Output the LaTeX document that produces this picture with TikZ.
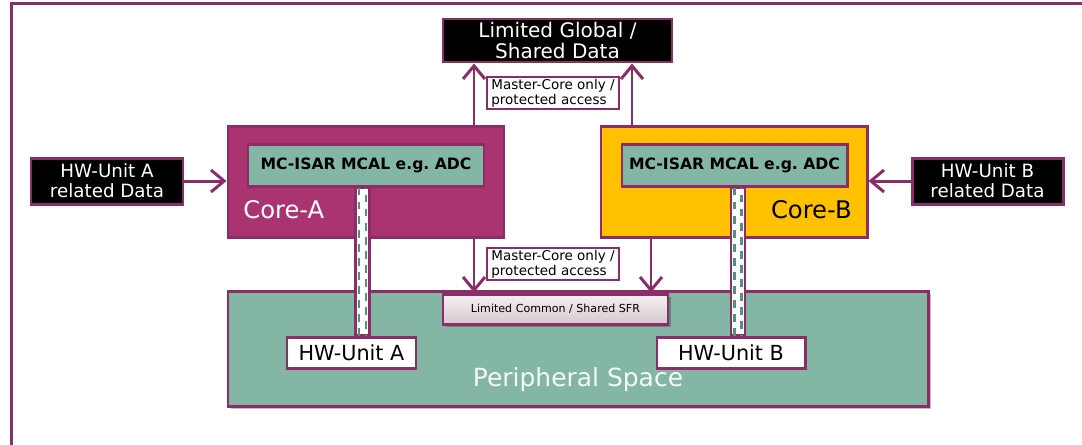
\documentclass[tikz,border=0pt]{standalone}
\usepackage{fontspec}
\setmainfont{DejaVu Sans}
\usetikzlibrary{arrows.meta,shadows,calc}

\definecolor{frameline}{RGB}{140,45,105}
\definecolor{coreAfill}{RGB}{170,51,114}
\definecolor{coreBfill}{RGB}{255,192,0}
\definecolor{periphfill}{RGB}{132,182,166}
\definecolor{dashteal}{RGB}{78,148,122}
\definecolor{sfrtop}{RGB}{245,241,243}
\definecolor{sfrbot}{RGB}{214,200,207}

\begin{document}
\begin{tikzpicture}[
  box/.style={draw=frameline,line width=1.7pt,inner sep=0pt,align=center},
  blackbox/.style={box,fill=black,text=white,font=\fontsize{10.4}{11.4}\selectfont},
  note/.style={box,line width=1.4pt,fill=white,align=left,minimum width=2.64cm,minimum height=0.64cm,font=\fontsize{7.7}{8.3}\selectfont},
  mcal/.style={box,fill=periphfill,font=\bfseries\fontsize{8.9}{10}\selectfont,minimum height=0.84cm},
  unit/.style={box,fill=white,font=\fontsize{11.8}{12}\selectfont,minimum height=0.62cm},
  arr/.style={draw=frameline,line width=1.7pt,-{Straight Barb[length=7.5pt,width=12.5pt,line width=1.7pt]}},
  bar/.style={draw=frameline,line width=1.3pt,fill=white},
  bardash/.style={dashteal,line width=1.3pt,dash pattern=on 4.5pt off 3.5pt}
]
\useasboundingbox (0,0) rectangle (21.64,-8.88);
\draw[frameline,line width=1.7pt] (0.228,-9) -- (0.228,-0.07) -- (21.7,-0.07);

\node[box,fill=periphfill,minimum width=14cm,minimum height=2.3cm,
  drop shadow={shadow xshift=0.05cm,shadow yshift=-0.06cm,fill=black,opacity=0.25}] (periph) at (11.56,-6.97) {};
\node[text=white!92!periphfill,font=\fontsize{14.2}{15}\selectfont] (periphlbl) at (11.56,-7.6) {Peripheral Space};
\node[box,top color=sfrtop,bottom color=sfrbot,minimum width=4.5cm,minimum height=0.6cm,
  font=\fontsize{6.3}{7}\selectfont,
  drop shadow={shadow xshift=0.05cm,shadow yshift=-0.06cm,fill=black,opacity=0.25}] (sfr) at (11.11,-6.18) {Limited Common / Shared SFR};

\node[box,fill=coreAfill,minimum width=5.52cm,minimum height=2.22cm] (coreA) at (7.32,-3.63) {};
\node[box,fill=coreBfill,minimum width=5.32cm,minimum height=2.22cm] (coreB) at (14.68,-3.63) {};
\node[mcal,minimum width=4.72cm] (mcalA) at (7.32,-3.30) {MC-ISAR MCAL e.g.\ ADC};
\node[mcal,minimum width=4.5cm] (mcalB) at (14.69,-3.30) {MC-ISAR MCAL e.g.\ ADC};
\node[anchor=west,inner sep=0pt,text=white,font=\fontsize{13.8}{14}\selectfont] (coreAlbl) at (4.86,-4.2) {Core-A};
\node[anchor=east,inner sep=0pt,font=\fontsize{13.8}{14}\selectfont] (coreBlbl) at (17.04,-4.2) {Core-B};

\node[blackbox,minimum width=3.04cm,minimum height=0.92cm] (dataA) at (2.14,-3.62) {HW-Unit A\\related Data};
\node[blackbox,minimum width=3.02cm,minimum height=0.92cm] (dataB) at (19.75,-3.62) {HW-Unit B\\related Data};
\node[blackbox,minimum width=4.58cm,minimum height=0.86cm,font=\fontsize{11.4}{11.8}\selectfont] (glob) at (11.15,-0.81) {Limited Global /\\Shared Data};

\node[note] (mtop) at (11.06,-1.86) {Master-Core only /\\protected access};
\node[note] (mbot) at (11.06,-5.28) {Master-Core only /\\protected access};

\node[unit,minimum width=2.58cm] (unitA) at (7.03,-7.05) {HW-Unit A};
\node[unit,minimum width=2.96cm] (unitB) at (14.62,-7.05) {HW-Unit B};

\coordinate (barAl) at (7.11,0);
\coordinate (barAr) at (7.39,0);
\coordinate (barBl) at (14.62,0);
\coordinate (barBr) at (14.90,0);
\draw[bar] (mcalA.south -| barAl) rectangle (unitA.north -| barAr);
\draw[bar] (mcalB.south -| barBl) rectangle (unitB.north -| barBr);
\draw[bardash] ($(mcalA.south -| barAl)+(0.07,0)$) -- ($(unitA.north -| barAl)+(0.07,0)$);
\draw[bardash,dash phase=4pt] ($(mcalA.south -| barAr)+(-0.07,0)$) -- ($(unitA.north -| barAr)+(-0.07,0)$);
\draw[bardash] ($(mcalB.south -| barBl)+(0.07,0)$) -- ($(unitB.north -| barBl)+(0.07,0)$);
\draw[bardash,dash phase=4pt] ($(mcalB.south -| barBr)+(-0.07,0)$) -- ($(unitB.north -| barBr)+(-0.07,0)$);

\coordinate (upA) at (9.48,0);
\coordinate (upB) at (12.64,0);
\coordinate (downB) at (13.02,0);
\draw[arr] (coreA.north -| upA) -- (glob.south -| upA);
\draw[arr] (coreB.north -| upB) -- (glob.south -| upB);
\draw[arr] (coreA.south -| upA) -- (sfr.north -| upA);
\draw[arr] (coreB.south -| downB) -- (sfr.north -| downB);

\draw[arr] (dataA.east) -- (dataA.east -| coreA.west);
\draw[arr] (dataB.west) -- (dataB.west -| coreB.east);
\end{tikzpicture}
\end{document}
